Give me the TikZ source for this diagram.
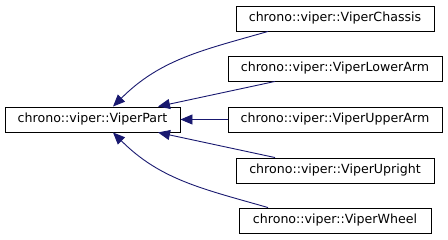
\documentclass[tikz,border=0pt]{standalone}
\usepackage{fontspec}
\setmainfont{DejaVu Sans}
\usetikzlibrary{arrows.meta}
\definecolor{edgeblue}{HTML}{191970}

\begin{document}
\begin{tikzpicture}[
    x=1pt, y=-1pt,
    cls/.style={rectangle, draw, line width=0.9pt, fill=white, minimum width=#1, minimum height=25pt, inner sep=0pt, align=center, font=\fontsize{12.6}{14}\selectfont},
    inh/.style={edgeblue, line width=0.9pt, -{Triangle[length=12pt, width=10pt]}},
]
    \useasboundingbox (0,0) rectangle (448,240);

    % base class
    \node[cls=175pt] (part) at (92.5,119.5) {chrono::viper::ViperPart};

    % derived classes
    \node[cls=198pt] (chassis) at (335,18.5) {chrono::viper::ViperChassis};
    \node[cls=214pt] (lower) at (335,68.5) {chrono::viper::ViperLowerArm};
    \node[cls=214pt] (upper) at (335,119.5) {chrono::viper::ViperUpperArm};
    \node[cls=198pt] (upright) at (335,170.5) {chrono::viper::ViperUpright};
    \node[cls=192pt] (wheel) at (335,220.5) {chrono::viper::ViperWheel};

    % inheritance edges
    \draw[inh] ([xshift=-67pt]chassis.south) to[out=196, in=45] ([xshift=20.5pt]part.north);
    \draw[inh] ([xshift=-60pt]lower.south) -- ([xshift=65.5pt]part.north);
    \draw[inh] (upper.west) -- (part.east);
    \draw[inh] ([xshift=-60pt]upright.north) -- ([xshift=65.5pt]part.south);
    \draw[inh] ([xshift=-67pt]wheel.north) to[out=164, in=-45] ([xshift=20.5pt]part.south);
\end{tikzpicture}
\end{document}
